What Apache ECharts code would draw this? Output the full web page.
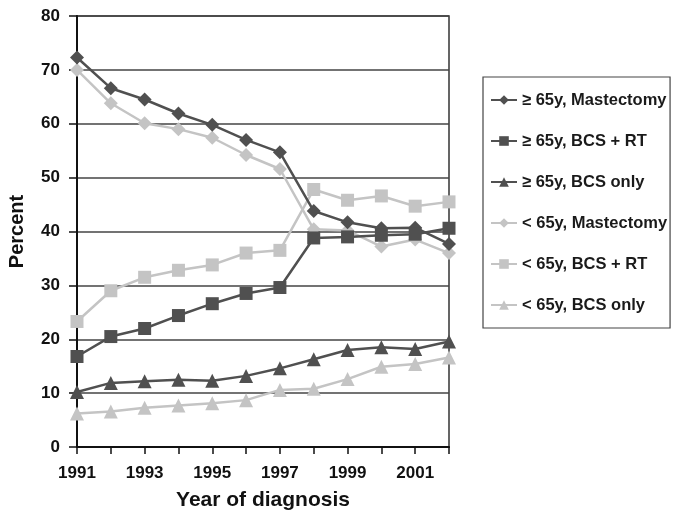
<!DOCTYPE html>
<html><head><meta charset="utf-8">
<script src="https://cdn.jsdelivr.net/npm/echarts@6/dist/echarts.min.js"></script>
<style>html,body{margin:0;padding:0;background:#fff}#c{width:673px;height:513px}</style>
</head><body><div id="c"></div>
<script>
const years = ['1991','1992','1993','1994','1995','1996','1997','1998','1999','2000','2001','2002'];
const oldMast = [72.3,66.6,64.5,61.9,59.8,57.0,54.7,43.8,41.7,40.6,40.7,37.7];
const oldBcsRt = [16.8,20.5,22.0,24.4,26.6,28.5,29.6,38.8,39.0,39.3,39.5,40.6];
const oldBcsOnly = [10.2,11.9,12.2,12.5,12.3,13.2,14.6,16.3,18.0,18.5,18.2,19.6];
const youngMast = [70.0,63.8,60.1,59.0,57.4,54.2,51.6,40.4,40.2,37.2,38.5,36.0];
const youngBcsRt = [23.3,29.0,31.5,32.8,33.8,36.0,36.5,47.8,45.8,46.6,44.7,45.5];
const youngBcsOnly = [6.2,6.6,7.3,7.7,8.1,8.7,10.6,10.8,12.6,14.9,15.4,16.6];
const names = ['\u2265 65y, Mastectomy','\u2265 65y, BCS + RT','\u2265 65y, BCS only','< 65y, Mastectomy','< 65y, BCS + RT','< 65y, BCS only'];
const seriesData = [oldMast, oldBcsRt, oldBcsOnly, youngMast, youngBcsRt, youngBcsOnly];
const symbols = ['diamond','rect','triangle','diamond','rect','triangle'];
const symSizes = [14,13,14,14,13,14];
const DARK = '#505050', LIGHT = '#c4c4c4';
const font = '"Liberation Sans", Arial, sans-serif';
const chart = echarts.init(document.getElementById('c'));
chart.setOption({
  animation:false,
  grid:{left:77,right:224,top:16,bottom:66,containLabel:false,outerBoundsMode:'none',show:true,borderColor:'#333',borderWidth:1.5,backgroundColor:'transparent'},
  legend:{
    orient:'vertical', left:483, top:77,
    padding:[14,3,14,7], itemGap:23, itemWidth:26, itemHeight:12,
    borderColor:'#444', borderWidth:1.2,
    textStyle:{fontFamily:font,fontWeight:'bold',fontSize:16.5,lineHeight:18,color:'#1a1a1a'},
    data:names
  },
  xAxis:{
    type:'category', data:years, boundaryGap:false,
    name:'Year of diagnosis', nameLocation:'middle', nameGap:43,
    nameTextStyle:{fontFamily:font,fontWeight:'bold',fontSize:21,color:'#111'},
    axisLine:{lineStyle:{color:'#111',width:2}},
    axisTick:{show:true,interval:0,length:7,lineStyle:{color:'#111',width:1.5}},
    axisLabel:{interval:1,fontFamily:font,fontWeight:'bold',fontSize:17,color:'#111',margin:18},
    splitLine:{show:false}
  },
  yAxis:{
    type:'value', min:0, max:80, interval:10,
    name:'Percent', nameLocation:'middle', nameGap:50,
    nameTextStyle:{fontFamily:font,fontWeight:'bold',fontSize:20,color:'#111'},
    axisLine:{show:true,lineStyle:{color:'#111',width:2}},
    axisTick:{show:true,length:8,lineStyle:{color:'#111',width:1.5}},
    axisLabel:{fontFamily:font,fontWeight:'bold',fontSize:17,color:'#111',margin:17},
    splitLine:{show:true,lineStyle:{color:'#444',width:1.5}}
  },
  series: names.map((n,i)=>({
    name:n, type:'line', data:seriesData[i],
    symbol:symbols[i], symbolSize:symSizes[i],
    lineStyle:{width:2.5,color:i<3?DARK:LIGHT},
    itemStyle:{color:i<3?DARK:LIGHT},
    z: i<3 ? 3 : 2
  }))
});
</script></body></html>
